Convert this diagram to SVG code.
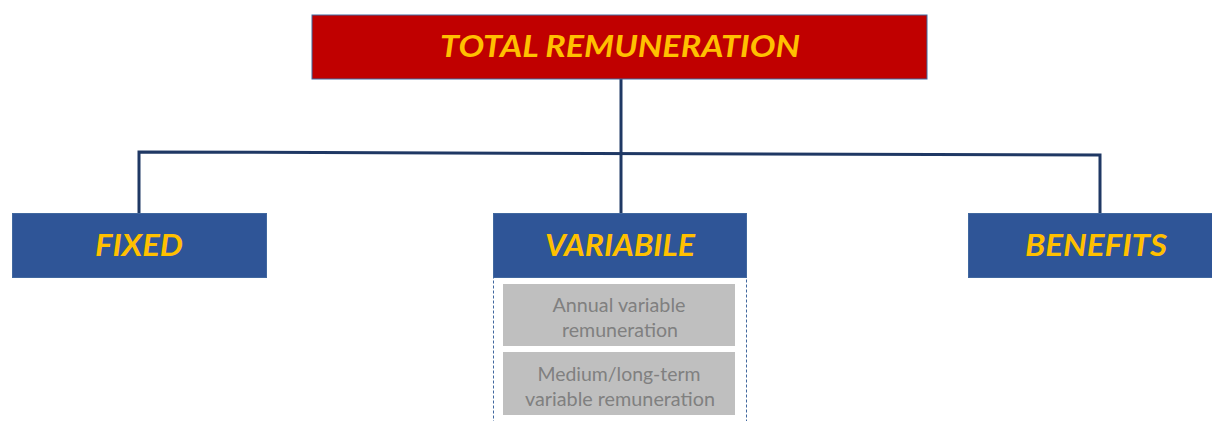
<svg xmlns="http://www.w3.org/2000/svg" width="1212" height="421" viewBox="0 0 1212 421">
<style>
.hd{fill:#2F5597;stroke:#41689F;stroke-width:1}
.ht{font-family:Lato,"Open Sans",sans-serif;font-weight:bold;font-style:italic;fill:#FFC000;text-anchor:middle}
.gb{fill:#BFBFBF}
.gt{font-family:Lato,"Open Sans",sans-serif;font-size:18.5px;fill:#808080;text-anchor:middle}
.cn{fill:none;stroke:#1F3864;stroke-width:3}
</style>
<rect width="1212" height="421" fill="#fff"/>
<g id="connectors">
<path class="cn" d="M621,79 V213"/>
<path class="cn" d="M139,213 V152 L1100,155 V213"/>
</g>
<g id="total">
<rect x="312" y="15" width="615" height="64" fill="#C00000" stroke="#41689F" stroke-width="1"/>
<text class="ht" x="620" y="57" font-size="30" textLength="360" lengthAdjust="spacingAndGlyphs">TOTAL REMUNERATION</text>
</g>
<g id="fixed">
<rect class="hd" x="12.5" y="213.5" width="254" height="64"/>
<text class="ht" x="139" y="256" font-size="30" textLength="88" lengthAdjust="spacingAndGlyphs">FIXED</text>
</g>
<g id="variabile">
<rect x="493.5" y="277.5" width="253" height="150" fill="none" stroke="#41689F" stroke-width="1" stroke-dasharray="3,2"/>
<rect class="hd" x="493.5" y="213.5" width="253" height="64"/>
<text class="ht" x="620" y="256" font-size="30" textLength="150" lengthAdjust="spacingAndGlyphs">VARIABILE</text>
<g id="annual">
<rect class="gb" x="503" y="284" width="232" height="62"/>
<text class="gt" x="619" y="312" textLength="133" lengthAdjust="spacingAndGlyphs">Annual variable</text>
<text class="gt" x="620" y="337" textLength="116" lengthAdjust="spacingAndGlyphs">remuneration</text>
</g>
<g id="medium">
<rect class="gb" x="503" y="352" width="232" height="63"/>
<text class="gt" x="619" y="381" textLength="163" lengthAdjust="spacingAndGlyphs">Medium/long-term</text>
<text class="gt" x="620" y="406" textLength="190" lengthAdjust="spacingAndGlyphs">variable remuneration</text>
</g>
</g>
<g id="benefits">
<rect class="hd" x="968.5" y="213.5" width="250" height="64"/>
<text class="ht" x="1096" y="256" font-size="30" textLength="142" lengthAdjust="spacingAndGlyphs">BENEFITS</text>
</g>
</svg>
